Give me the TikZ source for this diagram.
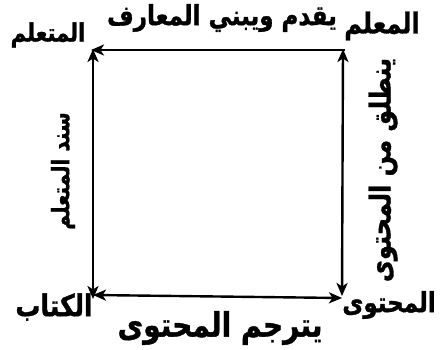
\documentclass[tikz,border=0pt]{standalone}
\usepackage{fontspec}
\TeXXeTstate=1
\newfontfamily\arabicfont[Script=Arabic, BoldFont={DejaVu Sans Bold}, BoldFeatures={FakeBold=1.2}]{DejaVu Sans}
\usetikzlibrary{arrows.meta}
\newcommand{\artxt}[1]{\scalebox{1}[1.2]{\beginR #1\endR}}
\begin{document}
\begin{tikzpicture}[x=1pt,y=-1pt,
  lbl/.style={font=\arabicfont\bfseries\fontsize{#1}{#1}\selectfont, inner sep=0pt},
  conn/.style={line width=2.4pt},
  hd/.tip={Stealth[length=13pt,width=11pt,inset=3.5pt]}]
\useasboundingbox (0,0) rectangle (441,349);
\coordinate (tl) at (93,50);
\coordinate (tr) at (343,50);
\coordinate (br) at (342,297);
\coordinate (bl) at (93,297);
% corner labels
\node[lbl=21] (mutaallim) at (48,35) {\artxt{المتعلم}};
\node[lbl=24] (muallim) at (382,26) {\artxt{المعلم}};
\node[lbl=23] (muhtawa) at (389,305) {\artxt{المحتوى}};
\node[lbl=25] (kitab) at (54,307) {\artxt{الكتاب}};
% side labels
\node[lbl=23] (top) at (222,18) {\artxt{يقدم ويبني المعارف}};
\node[lbl=28] (bottom) at (220,328) {\artxt{يترجم المحتوى}};
\node[lbl=20] (left) [rotate=90] at (63,171) {\artxt{سند المتعلم}};
\node[lbl=24] (right) [rotate=90] at (383,170) {\artxt{ينطلق من المحتوى}};
% connectors
\draw[conn, hd-] ([xshift=-2pt]tl) -- ([xshift=2pt]tr);
\draw[conn, hd-hd] ([yshift=1pt]tl) -- ([yshift=-2pt]bl);
\draw[conn, hd-hd] ([yshift=1pt]tr) -- ([yshift=1pt]br);
\draw[conn, hd-hd] ([yshift=2pt]bl) -- ([yshift=-1pt]br);
\end{tikzpicture}
\end{document}
